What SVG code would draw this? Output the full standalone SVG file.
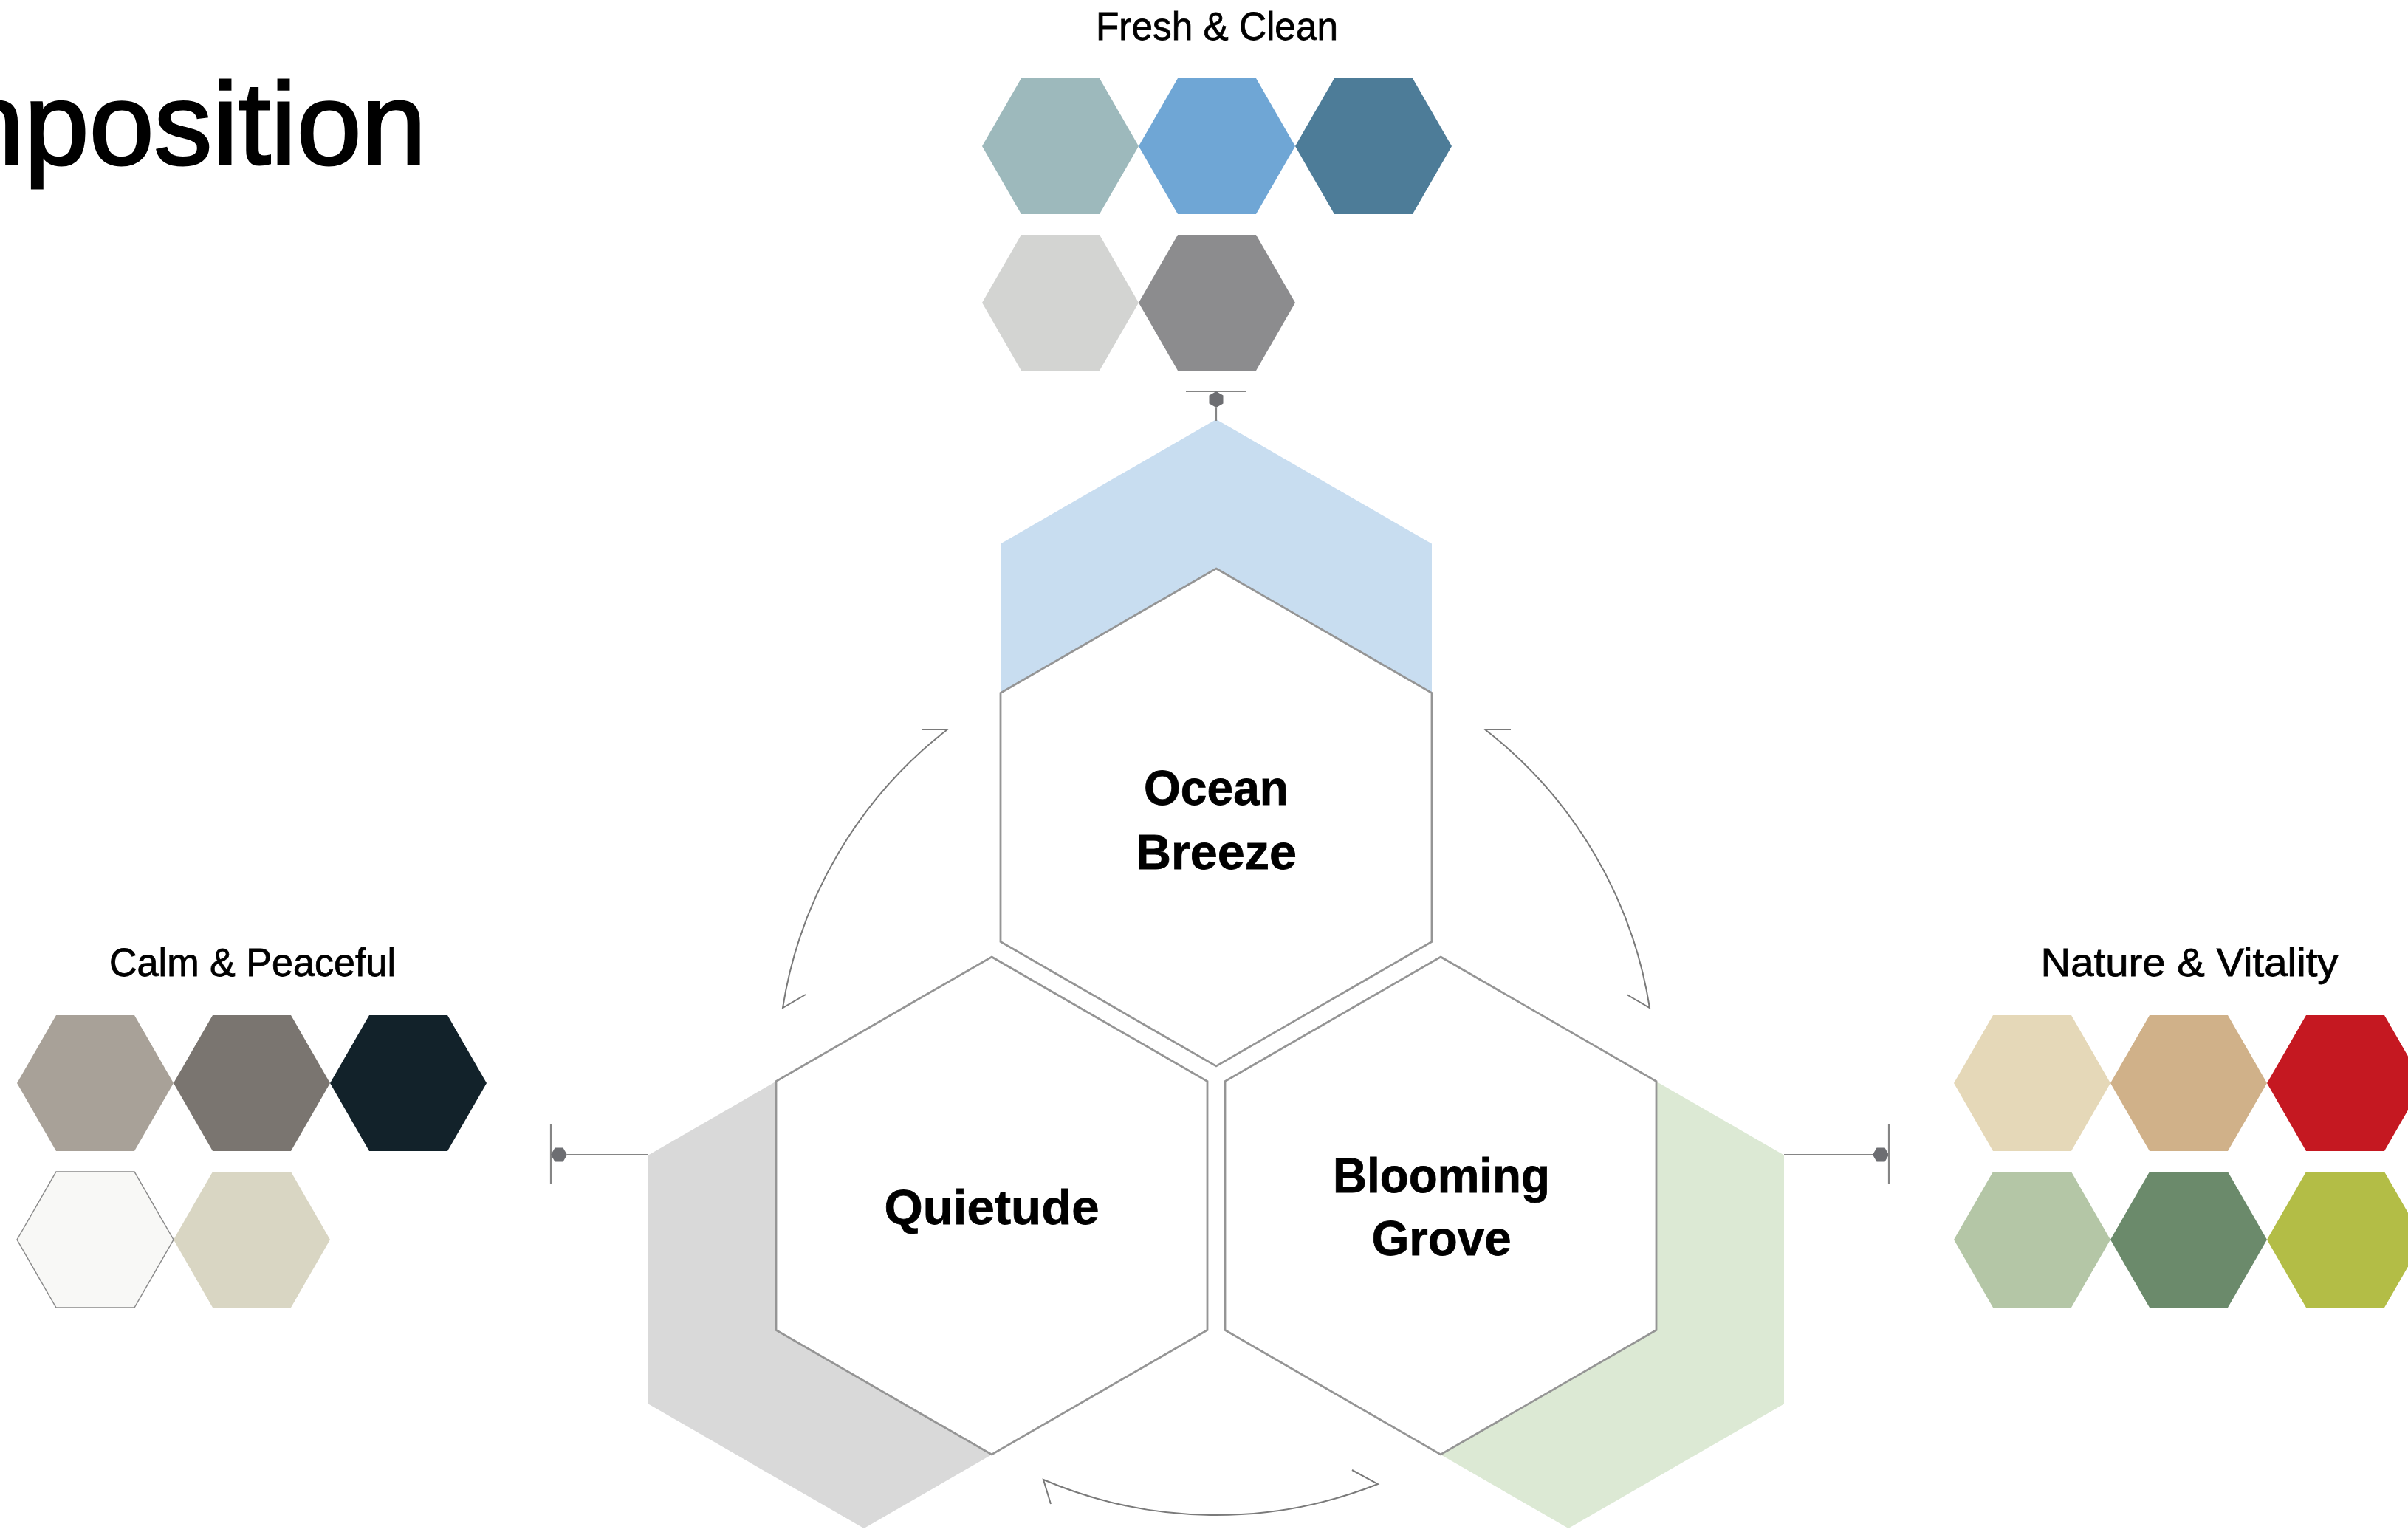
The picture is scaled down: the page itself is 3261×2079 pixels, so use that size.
<svg xmlns="http://www.w3.org/2000/svg" xmlns:xlink="http://www.w3.org/1999/xlink" width="3261" height="2079" viewBox="0 0 3261 2079">
<defs>
<style>
.title{font-family:"Liberation Sans",Arial,sans-serif;font-size:53px;fill:#000;stroke:#000;stroke-width:0.8;text-anchor:middle}
.big{font-family:"Liberation Sans",Arial,sans-serif;font-size:158px;fill:#000;stroke:#000;stroke-width:3}
.lbl{font-family:"Liberation Sans",Arial,sans-serif;font-size:66px;font-weight:bold;fill:#000;stroke:#000;stroke-width:0.8;text-anchor:middle}
.hexw{fill:#fff;stroke:#959595;stroke-width:2.8;stroke-linejoin:miter}
.conn{stroke:#858585;stroke-width:2.2;fill:none}
.arc{stroke:#7a7a7a;stroke-width:2;fill:none;stroke-linejoin:miter}
.dot{fill:#6d6e72}
</style>
<polygon id="sw" points="-106,0 -53,-92 53,-92 106,0 53,92 -53,92"/>
<polygon id="bh" points="0,-337 292,-168.5 292,168.5 0,337 -292,168.5 -292,-168.5"/>
</defs>
<rect width="3261" height="2079" fill="#fff"/>

<text class="big" x="-55" y="222">nposition</text>

<g id="group-fresh">
<text class="title" x="1648" y="54" textLength="328" lengthAdjust="spacingAndGlyphs">Fresh &amp; Clean</text>
<use xlink:href="#sw" x="1436" y="198" fill="#9db9bc"/>
<use xlink:href="#sw" x="1648" y="198" fill="#6fa6d5"/>
<use xlink:href="#sw" x="1860" y="198" fill="#4d7c98"/>
<use xlink:href="#sw" x="1436" y="410" fill="#d3d4d2"/>
<use xlink:href="#sw" x="1648" y="410" fill="#8c8c8e"/>
</g>

<g id="group-calm">
<text class="title" x="342" y="1322" textLength="388" lengthAdjust="spacingAndGlyphs">Calm &amp; Peaceful</text>
<use xlink:href="#sw" x="129" y="1467" fill="#a8a198"/>
<use xlink:href="#sw" x="341" y="1467" fill="#7a7570"/>
<use xlink:href="#sw" x="553" y="1467" fill="#12222a"/>
<use xlink:href="#sw" x="129" y="1679" fill="#f8f8f6" stroke="#8a8a8a" stroke-width="1.5"/>
<use xlink:href="#sw" x="341" y="1679" fill="#d9d6c3"/>
</g>

<g id="group-nature">
<text class="title" x="2965" y="1322" textLength="403" lengthAdjust="spacingAndGlyphs">Nature &amp; Vitality</text>
<use xlink:href="#sw" x="2752" y="1467" fill="#e5d8b8"/>
<use xlink:href="#sw" x="2964" y="1467" fill="#d0b189"/>
<use xlink:href="#sw" x="3176" y="1467" fill="#c51821"/>
<use xlink:href="#sw" x="2752" y="1679" fill="#b4c6a6"/>
<use xlink:href="#sw" x="2964" y="1679" fill="#6b8a6b"/>
<use xlink:href="#sw" x="3176" y="1679" fill="#b3bd46"/>
</g>

<g id="node-ocean">
<use xlink:href="#bh" x="1647" y="905" fill="#c8ddf0"/>
<use xlink:href="#bh" x="1647" y="1107" class="hexw"/>
<text class="lbl" x="1647" y="1090" textLength="196" lengthAdjust="spacingAndGlyphs">Ocean</text>
<text class="lbl" x="1647" y="1177" textLength="218" lengthAdjust="spacingAndGlyphs">Breeze</text>
</g>

<g id="node-quietude">
<use xlink:href="#bh" x="1170" y="1733" fill="#d9d9d9"/>
<use xlink:href="#bh" x="1343" y="1633" class="hexw"/>
<text class="lbl" x="1343" y="1658" textLength="291" lengthAdjust="spacingAndGlyphs">Quietude</text>
</g>

<g id="node-blooming">
<use xlink:href="#bh" x="2124" y="1733" fill="#dce9d4"/>
<use xlink:href="#bh" x="1951" y="1633" class="hexw"/>
<text class="lbl" x="1952" y="1615" textLength="294" lengthAdjust="spacingAndGlyphs">Blooming</text>
<text class="lbl" x="1952" y="1700" textLength="189" lengthAdjust="spacingAndGlyphs">Grove</text>
</g>

<g id="connectors">
<line class="conn" x1="1606" y1="530" x2="1688" y2="530"/>
<polygon class="dot" points="1647,530 1656.5,535.5 1656.5,546.5 1647,552 1637.5,546.5 1637.5,535.5"/>
<line class="conn" x1="1647" y1="552" x2="1647" y2="570"/>

<line class="conn" x1="746" y1="1523" x2="746" y2="1604"/>
<polygon class="dot" points="746,1564 751.5,1554.5 762.5,1554.5 768,1564 762.5,1573.5 751.5,1573.5"/>
<line class="conn" x1="768" y1="1564" x2="878" y2="1564"/>

<line class="conn" x1="2416" y1="1564" x2="2536" y2="1564"/>
<polygon class="dot" points="2558,1564 2552.5,1554.5 2541.5,1554.5 2536,1564 2541.5,1573.5 2552.5,1573.5"/>
<line class="conn" x1="2558" y1="1523" x2="2558" y2="1604"/>

<path class="arc" d="M1248,988 L1283,988 A594,594 0 0 0 1060,1365 L1091,1347"/>
<path class="arc" d="M2046,988 L2011,988 A594,594 0 0 1 2234,1365 L2203,1347"/>
<path class="arc" d="M1831,1991 L1866,2010 A594,594 0 0 1 1413,2004 L1423,2037"/>
</g>
</svg>
